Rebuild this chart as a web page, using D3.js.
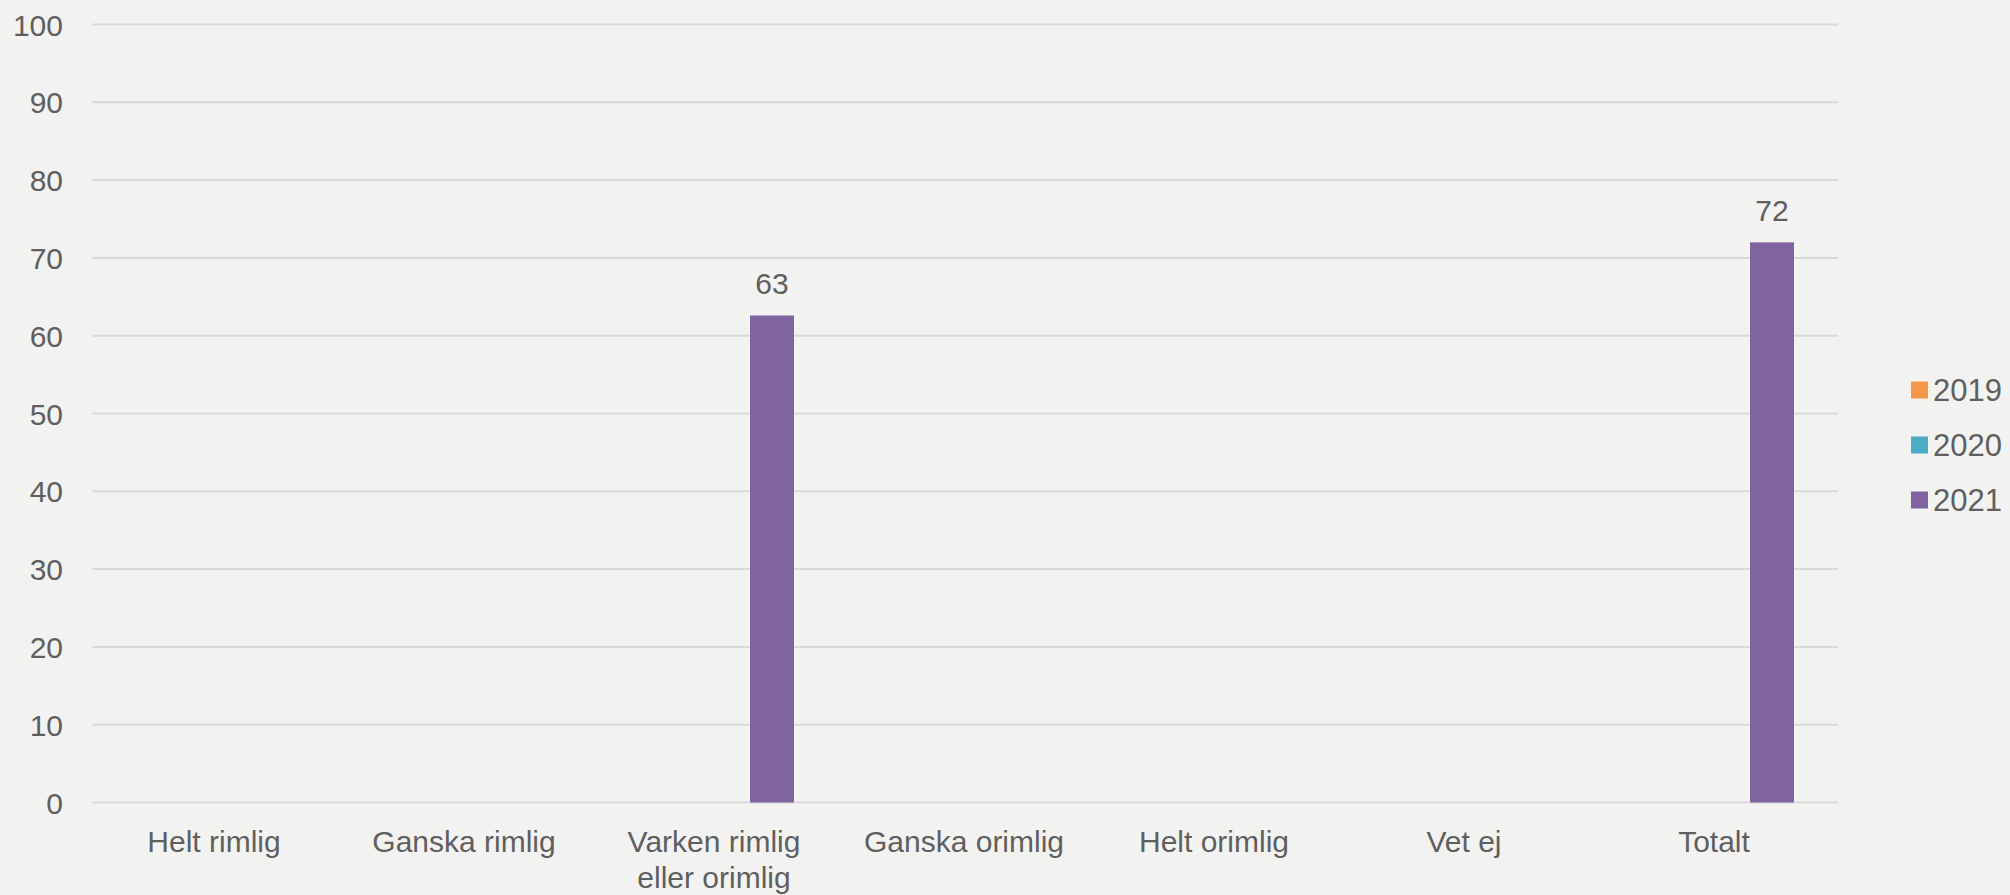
<!DOCTYPE html>
<html>
<head>
<meta charset="utf-8">
<script src="https://cdn.jsdelivr.net/npm/d3@7"></script>
<style>
  html, body { margin: 0; padding: 0; background: #f2f2f1; }
  svg { display: block; }
  text { font-family: "Liberation Sans", Arial, sans-serif; fill: #5f5f5f; }
</style>
</head>
<body>
<svg id="chart" width="2010" height="895"></svg>
<script>
const categories = ["Helt rimlig", "Ganska rimlig", "Varken rimlig eller orimlig", "Ganska orimlig", "Helt orimlig", "Vet ej", "Totalt"];
const seriesNames = ["2019", "2020", "2021"];
const values2019 = [null, null, null, null, null, null, null];
const values2020 = [null, null, null, null, null, null, null];
const values2021 = [null, null, 62.6, null, null, null, 72];
const seriesColors = ["#F79646", "#4BACC6", "#8064A2"];
const yTicks = [0, 10, 20, 30, 40, 50, 60, 70, 80, 90, 100];

const seriesValues = [values2019, values2020, values2021];

(function () {
const svg = d3.select("#chart");
svg.append("rect").attr("width", 2010).attr("height", 895).attr("fill", "#f2f2f1");

const plotLeft = 92, plotRight = 1842, plotTop = 24.5, plotBottom = 802.5;
const textColor = "#5f5f5f";

const y = d3.scaleLinear().domain([0, 100]).range([plotBottom, plotTop]);
const x0 = d3.scaleBand().domain(categories).range([plotLeft, plotRight]).padding(0);
const x1 = d3.scaleBand().domain(seriesNames).range([48, 202]).paddingInner(0.2).paddingOuter(0);

// gridlines
svg.append("g").selectAll("line").data(yTicks).join("line")
  .attr("x1", plotLeft).attr("x2", plotRight - 4)
  .attr("y1", d => y(d)).attr("y2", d => y(d))
  .attr("stroke", "#d9d9d9").attr("stroke-width", 2);

// y axis labels
const yAxis = d3.axisLeft(y).tickValues(yTicks).tickSize(0).tickPadding(0);
const yg = svg.append("g").attr("transform", `translate(63,0)`).call(yAxis);
yg.select(".domain").remove();
yg.selectAll("text").attr("font-size", 30).attr("fill", textColor)
  .style("font-family", '"Liberation Sans", Arial, sans-serif')
  .attr("dy", "0.35em");

// bars
const barData = [];
categories.forEach((c, i) => {
  seriesNames.forEach((s, j) => {
    const v = seriesValues[j][i];
    if (v !== null && v !== undefined) barData.push({ c, s, v, color: seriesColors[j] });
  });
});

svg.append("g").selectAll("rect").data(barData).join("rect")
  .attr("x", d => x0(d.c) + x1(d.s))
  .attr("width", x1.bandwidth())
  .attr("y", d => y(d.v))
  .attr("height", d => y(0) - y(d.v))
  .attr("fill", d => d.color);

// data labels
svg.append("g").selectAll("text").data(barData).join("text")
  .attr("x", d => x0(d.c) + x1(d.s) + x1.bandwidth() / 2)
  .attr("y", d => y(d.v) - 21)
  .attr("text-anchor", "middle")
  .attr("font-size", 30)
  .text(d => d3.format(".0f")(d.v));

// x axis labels with wrapping
const xAxis = d3.axisBottom(x0).tickSize(0).tickPadding(0);
const xg = svg.append("g").attr("transform", `translate(-3,${plotBottom})`).call(xAxis);
xg.select(".domain").remove();
xg.selectAll("text").each(function(d) {
  const t = d3.select(this);
  t.text(null).attr("y", 0).attr("dy", null)
    .attr("font-size", 30).attr("fill", textColor)
    .style("font-family", '"Liberation Sans", Arial, sans-serif');
  const words = d.split(" ");
  const lines = [];
  let line = [];
  const tmp = t.append("tspan");
  words.forEach(w => {
    line.push(w);
    tmp.text(line.join(" "));
    if (tmp.node().getComputedTextLength() > 230 && line.length > 1) {
      line.pop();
      lines.push(line.join(" "));
      line = [w];
    }
  });
  lines.push(line.join(" "));
  tmp.remove();
  lines.forEach((l, k) => {
    t.append("tspan").attr("x", 0).attr("y", 49 + k * 36).text(l);
  });
});

// legend
const legend = svg.append("g").selectAll("g").data(seriesNames).join("g")
  .attr("transform", (d, i) => `translate(1911,${390 + i * 55})`);
legend.append("rect").attr("x", 0).attr("y", -8.5).attr("width", 17).attr("height", 17)
  .attr("fill", (d, i) => seriesColors[i]);
legend.append("text").attr("x", 22).attr("y", 0).attr("dy", "0.36em")
  .attr("font-size", 31).text(d => d);
})();
</script>
</body>
</html>
